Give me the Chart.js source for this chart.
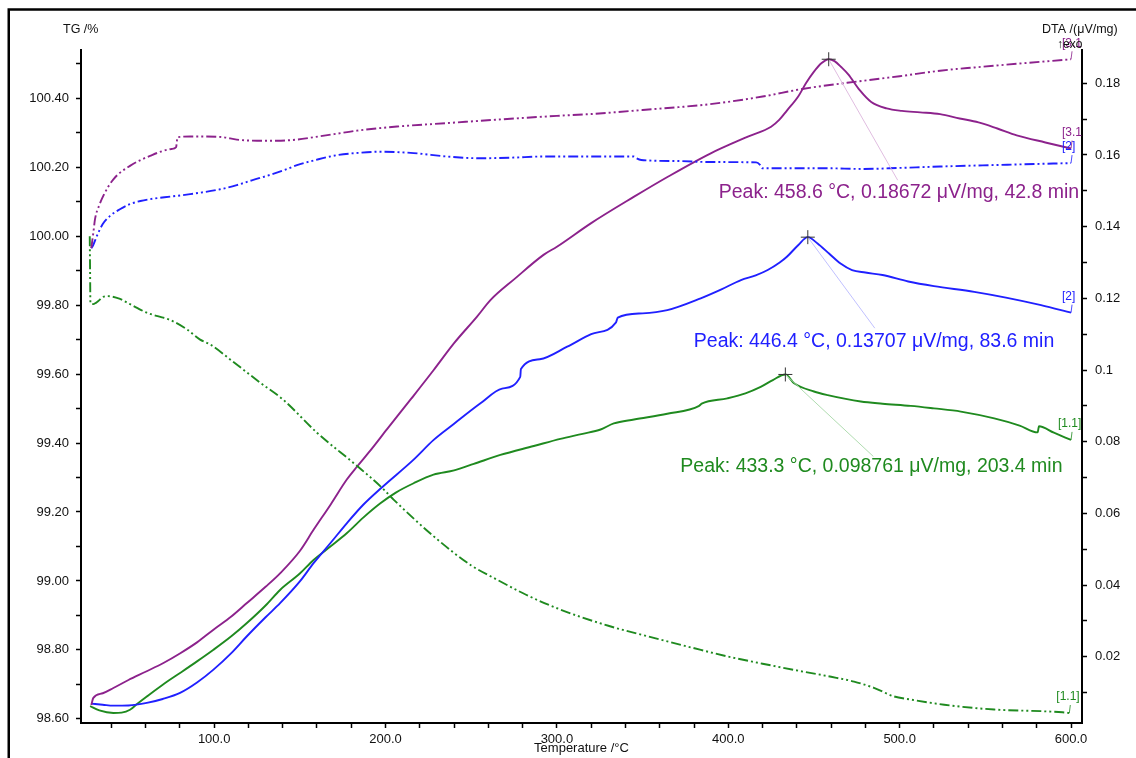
<!DOCTYPE html>
<html>
<head>
<meta charset="utf-8">
<script src="https://cdn.jsdelivr.net/npm/chart.js@4.4.0/dist/chart.umd.min.js"></script>
<style>
  html, body { margin: 0; padding: 0; background: #fff; }
  #wrap { position: relative; width: 1136px; height: 758px; }
</style>
</head>
<body>
<div id="wrap"><canvas id="taChart" width="1136" height="758"></canvas></div>
<script>
// TG curves (left axis, %)
const tgPurpleT = [28.3, 29.5, 30.5, 33, 35.3, 41.2, 50.9, 62.6, 75.2, 77.8, 78.6, 86, 95.7, 105.4, 113.2, 125, 136.6, 148, 158, 170, 183.3, 206.7, 236, 265, 300, 322.4, 350, 389.5, 420, 443.2, 479, 500, 523.6, 545, 568.3, 600];
const tgPurpleV = [99.965, 100.01, 100.05, 100.09, 100.117, 100.165, 100.204, 100.233, 100.253, 100.258, 100.287, 100.289, 100.289, 100.287, 100.28, 100.277, 100.277, 100.28, 100.287, 100.296, 100.306, 100.318, 100.328, 100.338, 100.349, 100.355, 100.366, 100.383, 100.405, 100.427, 100.451, 100.464, 100.48, 100.49, 100.5, 100.513];

const tgBlueT = [28.3, 29.5, 31.5, 35, 39.3, 45, 50.9, 57, 64.6, 75, 86, 103.5, 113.2, 122, 130.8, 140, 148.3, 160, 171.7, 185, 197, 216.4, 236, 255.4, 275, 291, 320, 344.8, 346, 349.2, 370, 389.5, 416.3, 418.5, 419.7, 440, 456.5, 479, 500, 523.6, 545, 568.3, 600];
const tgBlueV = [99.965, 99.975, 100.0, 100.035, 100.059, 100.078, 100.093, 100.102, 100.109, 100.115, 100.122, 100.136, 100.148, 100.162, 100.175, 100.19, 100.206, 100.222, 100.235, 100.242, 100.245, 100.241, 100.231, 100.226, 100.228, 100.231, 100.231, 100.231, 100.227, 100.221, 100.218, 100.215, 100.214, 100.207, 100.197, 100.197, 100.197, 100.195, 100.198, 100.202, 100.205, 100.208, 100.212];

const tgGreenT = [27.4, 27.6, 27.8, 29.5, 30.8, 32.4, 35.3, 38, 45.1, 49, 55, 60.7, 67, 74.3, 84, 91.8, 97.7, 110, 126.9, 140, 160, 183.3, 198, 204.7, 228, 250, 265, 282, 302, 330, 360.5, 384, 399.5, 420, 438.4, 460, 473.4, 485, 496.8, 506.5, 526, 555.2, 584.4, 595, 599];
const tgGreenV = [100.0, 99.9, 99.806, 99.803, 99.806, 99.812, 99.824, 99.826, 99.818, 99.808, 99.792, 99.778, 99.768, 99.757, 99.73, 99.7, 99.686, 99.64, 99.575, 99.527, 99.43, 99.334, 99.27, 99.236, 99.13, 99.045, 99.004, 98.96, 98.917, 98.87, 98.83, 98.8, 98.781, 98.76, 98.742, 98.722, 98.708, 98.69, 98.665, 98.656, 98.641, 98.627, 98.622, 98.619, 98.617];

// DTA curves (right axis, µV/mg)
const dtaPurpleT = [28.3, 29.5, 35, 41.2, 50, 60, 70.4, 80, 90, 99.6, 110, 119.1, 130, 138.6, 150, 158, 168, 177.5, 183.3, 191.1, 200.9, 215, 228.1, 240, 253.4, 261.2, 275.5, 292.4, 300, 320, 344.8, 365, 389.5, 411.8, 425, 429.7, 434.2, 440.9, 445.4, 449.9, 454.3, 458.6, 462, 466, 470, 476.7, 483.4, 492.4, 501.3, 512, 523.6, 535, 546, 557, 568.3, 585, 600];
const dtaPurpleV = [0.0065, 0.0085, 0.0098, 0.01127, 0.0135, 0.0158, 0.01824, 0.0209, 0.024, 0.02753, 0.0312, 0.03497, 0.0395, 0.04333, 0.0495, 0.0554, 0.0625, 0.0695, 0.073, 0.0775, 0.0835, 0.092, 0.1, 0.1075, 0.1149, 0.1195, 0.1255, 0.1322, 0.1344, 0.141, 0.1483, 0.154, 0.1604, 0.1652, 0.1679, 0.1698, 0.1724, 0.1764, 0.1801, 0.1832, 0.1856, 0.18672, 0.1862, 0.1845, 0.1825, 0.1781, 0.1748, 0.173, 0.1723, 0.1719, 0.1714, 0.1702, 0.1691, 0.1674, 0.1655, 0.1635, 0.1618];

const dtaBlueT = [28.3, 35, 41.2, 50, 60.7, 70, 80.1, 90, 99.6, 110, 119.1, 130, 138.6, 150, 158, 168, 177.5, 187, 198, 216.4, 228.1, 240, 255.4, 268, 278.6, 279.0, 290, 306, 320, 334.5, 335.5, 350, 364.4, 383.9, 396, 407.4, 416, 423, 430, 434.2, 440.9, 446.4, 452.1, 458.8, 465.5, 472.2, 480, 490, 505, 520, 543.5, 562, 582.5, 600];
const dtaBlueV = [0.0069, 0.0066, 0.00634, 0.0064, 0.0071, 0.0082, 0.0099, 0.0128, 0.0164, 0.021, 0.0257, 0.031, 0.035, 0.041, 0.0461, 0.0518, 0.0573, 0.0624, 0.0673, 0.075, 0.0805, 0.085, 0.0907, 0.0948, 0.0981, 0.1003, 0.103, 0.1065, 0.11, 0.1133, 0.1146, 0.1158, 0.1167, 0.12, 0.1225, 0.1251, 0.1264, 0.1279, 0.13, 0.1316, 0.1349, 0.13707, 0.1353, 0.1325, 0.1297, 0.1279, 0.1272, 0.1265, 0.1247, 0.1234, 0.1218, 0.1202, 0.1181, 0.116];

const dtaGreenT = [27.6, 33, 41.2, 46, 50.9, 55, 60.7, 70, 80.1, 90, 99.6, 110, 119.1, 130, 138.6, 150, 158, 168, 177.5, 187, 197, 206, 216.4, 228, 240, 251.5, 267, 286.5, 302, 315, 325.5, 333.2, 345, 364.4, 383, 384.5, 399.5, 410, 418.9, 426, 433.3, 438.4, 450, 458, 477.3, 490, 506.5, 520, 535.7, 555.2, 570, 580.5, 581.3, 590, 600];
const dtaGreenV = [0.0062, 0.005, 0.0043, 0.0044, 0.0052, 0.0068, 0.0089, 0.0122, 0.01546, 0.0187, 0.02195, 0.0257, 0.0294, 0.0343, 0.0387, 0.0432, 0.047, 0.0508, 0.0545, 0.0588, 0.0628, 0.0658, 0.0684, 0.0708, 0.072, 0.0738, 0.0763, 0.0788, 0.0808, 0.0822, 0.0834, 0.0851, 0.0862, 0.0878, 0.09, 0.0906, 0.0921, 0.0935, 0.0953, 0.0972, 0.098761, 0.0963, 0.094, 0.093, 0.0912, 0.0906, 0.09, 0.0893, 0.0884, 0.0865, 0.0845, 0.0826, 0.0843, 0.0825, 0.0805];

// peak evaluations (purple, blue, green)
const peakTemps = [458.6, 446.4, 433.3];
const peakValues = [0.18672, 0.13707, 0.098761];
const peakTimes = [42.8, 83.6, 203.4];
const seriesTags = ['[3.1]', '[2]', '[1.1]'];

const purple = '#8c228c', blue = '#2020ff', green = '#1f8a1f';
const seriesColors = [purple, blue, green];
const leaderColors = ['#e0bde0', '#c0c0ff', '#b0dcb0'];
const FONT = '"Liberation Sans", Arial, sans-serif';
Chart.defaults.font.family = FONT;

const pts = (t, v) => t.map((x, i) => ({x: x, y: v[i]}));
const tgDash = [10, 3, 2, 3, 2, 3];

const mkSet = (label, t, v, color, axis, dash) => ({
    label: label,
    data: pts(t, v),
    yAxisID: axis,
    borderColor: color,
    borderWidth: 1.9,
    borderDash: dash,
    pointRadius: 0,
    fill: false,
    cubicInterpolationMode: 'monotone',
});

// offsets of label text / leader end from each peak, in pixels
const peakLabelLayout = [
    {tx: -110, ty: 133, lx: 69, ly: 121},
    {tx: -114, ty: 104, lx: 67, ly: 91},
    {tx: -105, ty: 92, lx: 88, ly: 82},
];

const annotations = {
    id: 'annotations',
    afterDatasetsDraw(chart) {
        const ctx = chart.ctx;
        const xs = chart.scales.x, yR = chart.scales.yDTA;
        const area = chart.chartArea;
        ctx.save();

        // outer frame
        ctx.strokeStyle = '#000';
        ctx.lineWidth = 2.5;
        ctx.beginPath();
        ctx.moveTo(8.75, 758);
        ctx.lineTo(8.75, 9.5);
        ctx.lineTo(1136, 9.5);
        ctx.stroke();

        // axis titles
        ctx.fillStyle = '#111';
        ctx.font = '12.5px ' + FONT;
        ctx.textBaseline = 'middle';
        ctx.textAlign = 'left';
        ctx.fillText('TG /%', 63, 30);
        ctx.fillText('DTA /(\u03bcV/mg)', 1042, 30);
        ctx.font = '13px ' + FONT;
        ctx.textAlign = 'center';
        ctx.fillText('Temperature /\u00b0C', (area.left + area.right) / 2, 748);

        // peaks
        peakTemps.forEach((t, i) => {
            const px = xs.getPixelForValue(t), py = yR.getPixelForValue(peakValues[i]);
            const lay = peakLabelLayout[i];
            ctx.strokeStyle = leaderColors[i];
            ctx.lineWidth = 1;
            ctx.beginPath();
            ctx.moveTo(px, py);
            ctx.lineTo(px + lay.lx, py + lay.ly);
            ctx.stroke();
            ctx.strokeStyle = '#333';
            ctx.beginPath();
            ctx.moveTo(px - 7, py); ctx.lineTo(px + 7, py);
            ctx.moveTo(px, py - 7); ctx.lineTo(px, py + 7);
            ctx.stroke();
            ctx.fillStyle = seriesColors[i];
            ctx.font = '19.5px ' + FONT;
            ctx.textAlign = 'left';
            ctx.textBaseline = 'middle';
            ctx.fillText('Peak: ' + t.toFixed(1) + ' \u00b0C, ' + peakValues[i] + ' \u03bcV/mg, ' + peakTimes[i].toFixed(1) + ' min', px + lay.tx, py + lay.ty);
        });

        // curve end tags, clipped at the right axis
        ctx.save();
        ctx.beginPath();
        ctx.rect(area.left, 0, area.right - area.left, area.bottom);
        ctx.clip();
        ctx.font = '12px ' + FONT;
        ctx.textAlign = 'left';
        chart.data.datasets.forEach((ds, i) => {
            const meta = chart.getDatasetMeta(i);
            const last = meta.data[meta.data.length - 1];
            const c = seriesColors[i % 3];
            ctx.strokeStyle = c;
            ctx.lineWidth = 0.8;
            ctx.beginPath();
            ctx.moveTo(last.x, last.y);
            ctx.lineTo(last.x + 1, last.y - 8);
            ctx.stroke();
            ctx.fillStyle = c;
            ctx.fillText(seriesTags[i % 3], last.x - (i % 3 === 2 ? 13 : 9), last.y - 16);
        });
        ctx.fillStyle = '#111';
        ctx.fillText('\u2191exo', 1057, 45);
        ctx.restore();

        ctx.restore();
    }
};

const axisGrid = {drawOnChartArea: false, drawTicks: true, tickLength: 5, tickColor: '#000', tickWidth: 1.5, color: '#000'};
const axisBorder = {display: true, color: '#000', width: 2};

const ctx = document.getElementById('taChart').getContext('2d');
const taChart = new Chart(ctx, {
    type: 'line',
    data: {
        datasets: [
            mkSet('TG 3.1', tgPurpleT, tgPurpleV, purple, 'yTG', tgDash),
            mkSet('TG 2', tgBlueT, tgBlueV, blue, 'yTG', tgDash),
            mkSet('TG 1.1', tgGreenT, tgGreenV, green, 'yTG', tgDash),
            mkSet('DTA 3.1', dtaPurpleT, dtaPurpleV, purple, 'yDTA', []),
            mkSet('DTA 2', dtaBlueT, dtaBlueV, blue, 'yDTA', []),
            mkSet('DTA 1.1', dtaGreenT, dtaGreenV, green, 'yDTA', []),
        ],
    },
    options: {
        responsive: false,
        animation: false,
        devicePixelRatio: 1,
        layout: {padding: {top: 50, left: 0, right: 0, bottom: 0}},
        plugins: {legend: {display: false}, tooltip: {enabled: false}},
        scales: {
            x: {
                type: 'linear',
                min: 22.3,
                max: 606.4,
                grid: axisGrid,
                border: axisBorder,
                afterFit: (s) => { s.height = 35; },
                ticks: {
                    stepSize: 20,
                    includeBounds: false,
                    autoSkip: false,
                    maxRotation: 0,
                    padding: 4,
                    color: '#111',
                    font: {size: 13},
                    callback: (v) => (Math.round(v) % 100 === 0 ? v.toFixed(1) : ''),
                },
            },
            yTG: {
                type: 'linear',
                position: 'left',
                min: 98.588,
                max: 100.54,
                grid: axisGrid,
                border: axisBorder,
                afterFit: (s) => { s.width = 81; },
                ticks: {
                    stepSize: 0.1,
                    includeBounds: false,
                    autoSkip: false,
                    padding: 7,
                    color: '#111',
                    font: {size: 13},
                    callback: (v) => (Math.round(v * 10) % 2 === 0 ? v.toFixed(2) : ''),
                },
            },
            yDTA: {
                type: 'linear',
                position: 'right',
                min: 0.0015,
                max: 0.1893,
                grid: axisGrid,
                border: axisBorder,
                afterFit: (s) => { s.width = 54; },
                ticks: {
                    stepSize: 0.01,
                    includeBounds: false,
                    autoSkip: false,
                    padding: 8,
                    color: '#111',
                    font: {size: 13},
                    callback: (v) => (Math.round(v * 100) % 2 === 0 ? String(parseFloat(v.toFixed(2))) : ''),
                },
            },
        },
    },
    plugins: [annotations],
});
</script>
</body>
</html>
